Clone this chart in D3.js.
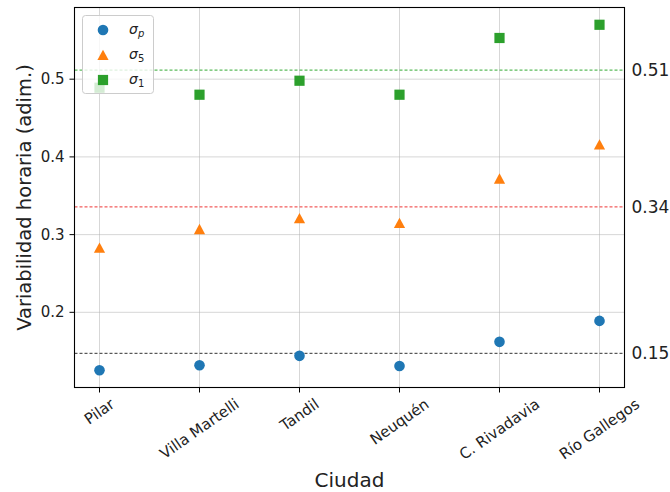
<!DOCTYPE html>
<html>
<head>
<meta charset="utf-8">
<script src="https://cdn.jsdelivr.net/npm/d3@7"></script>
<style>
  html, body { margin: 0; padding: 0; background: #fff; }
  svg { display: block; font-family: "DejaVu Sans", sans-serif; }
</style>
</head>
<body>
<svg id="chart" width="670" height="492"></svg>
<script>
// Cities on the x axis
const cities = ["Pilar", "Villa Martelli", "Tandil", "Neuquén", "C. Rivadavia", "Río Gallegos"];

// Hourly variability per city for each indicator
const sigmaP = [0.1255, 0.132, 0.144, 0.131, 0.162, 0.189];
const sigma5 = [0.283, 0.307, 0.321, 0.315, 0.372, 0.416];
const sigma1 = [0.489, 0.480, 0.498, 0.480, 0.553, 0.570];

const yTicks = [0.2, 0.3, 0.4, 0.5];

const seriesNames = ["σp", "σ5", "σ1"];
const seriesColors = ["#1f77b4", "#ff7f0e", "#2ca02c"];
const meanColors = ["#333333", "#ee3333", "#33aa33"];

const svg = d3.select("#chart");
const m = { left: 74.5, right: 624.5, top: 7.5, bottom: 387.5 };

const x = d3.scalePoint().domain(cities).range([m.left, m.right]).padding(0.25);

const all = sigmaP.concat(sigma5, sigma1);
const lo = d3.min(all), hi = d3.max(all), pad = (hi - lo) * 0.05;
const y = d3.scaleLinear().domain([lo - pad, hi + pad]).range([m.bottom, m.top]);

// grid
const grid = svg.append("g");
grid.selectAll("line.gy").data(yTicks).join("line")
  .attr("x1", m.left).attr("x2", m.right)
  .attr("y1", d => y(d)).attr("y2", d => y(d))
  .attr("stroke", "#b0b0b0").attr("stroke-opacity", 0.5).attr("stroke-width", 1);
grid.selectAll("line.gx").data(cities).join("line")
  .attr("x1", d => x(d)).attr("x2", d => x(d))
  .attr("y1", m.top).attr("y2", m.bottom)
  .attr("stroke", "#b0b0b0").attr("stroke-opacity", 0.5).attr("stroke-width", 1);

// mean reference lines with labels on the right
const series = [sigmaP, sigma5, sigma1];
series.forEach((s, i) => {
  const mu = d3.mean(s);
  svg.append("line")
    .attr("x1", m.left).attr("x2", m.right)
    .attr("y1", y(mu)).attr("y2", y(mu))
    .attr("stroke", meanColors[i]).attr("stroke-width", 1)
    .attr("stroke-dasharray", "3,2");
  svg.append("text")
    .attr("x", m.right + 7).attr("y", y(mu))
    .attr("dominant-baseline", "central")
    .attr("font-size", 17).attr("fill", "#222")
    .text(mu.toFixed(2));
});

// markers
function drawMarker(g, kind, cx, cy, color) {
  if (kind === 0) {
    g.append("circle").attr("cx", cx).attr("cy", cy).attr("r", 5.3).attr("fill", color);
  } else if (kind === 1) {
    g.append("path")
      .attr("d", `M${cx},${cy - 5.3}L${cx + 5.6},${cy + 5}L${cx - 5.6},${cy + 5}Z`)
      .attr("fill", color);
  } else {
    g.append("rect").attr("x", cx - 5.1).attr("y", cy - 5.1)
      .attr("width", 10.2).attr("height", 10.2).attr("fill", color);
  }
}
const marks = svg.append("g");
series.forEach((s, i) => {
  s.forEach((v, j) => drawMarker(marks, i, x(cities[j]), y(v), seriesColors[i]));
});

// frame
svg.append("rect")
  .attr("x", m.left).attr("y", m.top)
  .attr("width", m.right - m.left).attr("height", m.bottom - m.top)
  .attr("fill", "none").attr("stroke", "#000").attr("stroke-width", 1.1);

// y axis ticks
const yAx = svg.append("g");
yTicks.forEach(t => {
  yAx.append("line").attr("x1", m.left - 5).attr("x2", m.left)
    .attr("y1", y(t)).attr("y2", y(t)).attr("stroke", "#000");
  yAx.append("text").attr("x", m.left - 10).attr("y", y(t))
    .attr("text-anchor", "end").attr("dominant-baseline", "central")
    .attr("font-size", 15).attr("fill", "#222").text(t.toFixed(1));
});

// x axis ticks with rotated labels (rotated box centred under the tick)
const ang = 35, rad = ang * Math.PI / 180, fs = 15;
const xAx = svg.append("g");
cities.forEach(c => {
  const cx = x(c);
  xAx.append("line").attr("x1", cx).attr("x2", cx)
    .attr("y1", m.bottom).attr("y2", m.bottom + 5).attr("stroke", "#000");
  const t = xAx.append("text")
    .attr("text-anchor", "middle").attr("dominant-baseline", "central")
    .attr("font-size", fs).attr("fill", "#222").text(c);
  const w = t.node().getComputedTextLength();
  const h = fs * 0.95;
  const H = w * Math.sin(rad) + h * Math.cos(rad);
  t.attr("transform", `translate(${cx},${m.bottom + 9 + H / 2}) rotate(${-ang})`);
});

// axis titles
svg.append("text")
  .attr("x", (m.left + m.right) / 2).attr("y", 487)
  .attr("text-anchor", "middle").attr("font-size", 20).attr("fill", "#222")
  .text("Ciudad");
svg.append("text")
  .attr("transform", `translate(24,${(m.top + m.bottom) / 2}) rotate(-90)`)
  .attr("text-anchor", "middle").attr("dominant-baseline", "central")
  .attr("font-size", 19.5).attr("fill", "#222")
  .text("Variabilidad horaria (adim.)");

// legend
const lg = svg.append("g");
lg.append("rect").attr("x", 82.5).attr("y", 15.5).attr("width", 71).attr("height", 78)
  .attr("rx", 3).attr("fill", "#fff").attr("fill-opacity", 0.8)
  .attr("stroke", "#cccccc").attr("stroke-width", 1);
const subs = ["p", "5", "1"];
seriesNames.forEach((name, i) => {
  const cy = 30 + i * 25;
  drawMarker(lg, i, 103, cy, seriesColors[i]);
  const t = lg.append("text").attr("x", 129).attr("y", cy + 4)
    .attr("font-size", 14).attr("fill", "#222");
  t.append("tspan").attr("font-style", "italic").text(name.charAt(0));
  t.append("tspan").attr("dy", 3).attr("font-size", 10)
    .attr("font-style", i === 0 ? "italic" : "normal").text(subs[i]);
});
</script>
</body>
</html>
